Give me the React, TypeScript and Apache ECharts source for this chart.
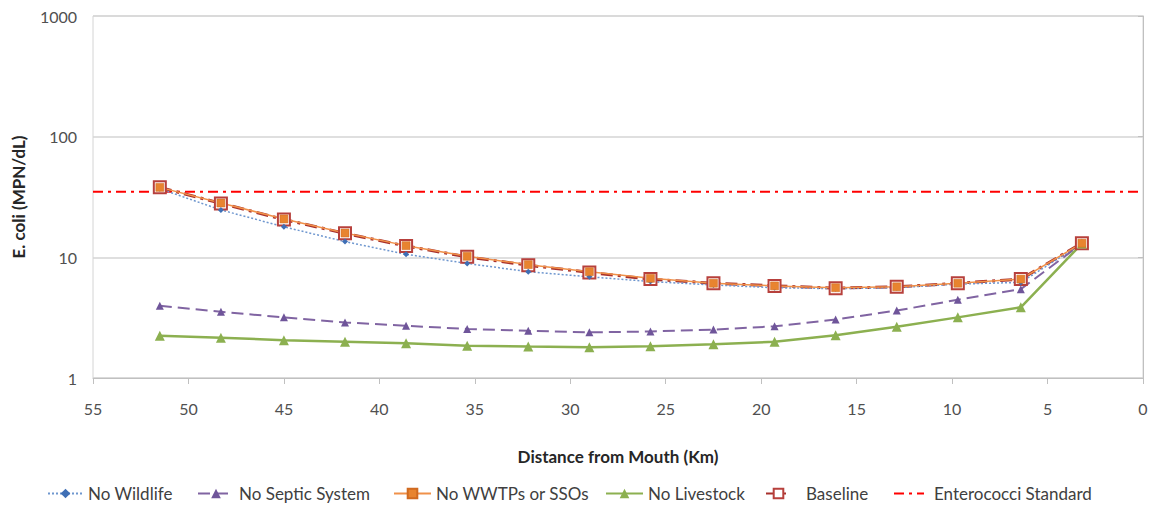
import React, { useEffect, useRef } from "react";
import * as echarts from "echarts";

const distanceKm = [51.5, 48.3, 45.0, 41.8, 38.6, 35.4, 32.2, 29.0, 25.8, 22.5, 19.3, 16.1, 12.9, 9.7, 6.4, 3.2];
const noWildlife = [37, 24.7, 17.9, 13.5, 10.6, 8.9, 7.6, 6.9, 6.3, 5.9, 5.6, 5.5, 5.6, 6.0, 6.2, 13];
const noSeptic = [3.97, 3.54, 3.18, 2.89, 2.71, 2.55, 2.46, 2.39, 2.43, 2.52, 2.68, 3.05, 3.62, 4.45, 5.45, 13];
const noWWTPs = [38, 28.2, 20.8, 15.9, 12.5, 10.2, 8.7, 7.6, 6.7, 6.1, 5.8, 5.6, 5.7, 6.1, 6.6, 13.1];
const noLivestock = [2.24, 2.16, 2.06, 2.0, 1.94, 1.85, 1.82, 1.80, 1.83, 1.90, 2.0, 2.26, 2.66, 3.18, 3.85, 13];
const baseline = [38, 28, 20.6, 15.8, 12.4, 10.1, 8.6, 7.5, 6.6, 6.1, 5.8, 5.55, 5.7, 6.1, 6.6, 13.1];
const standardX = [55, 0];
const standardValue = 35;

const seriesNames = ["No Wildlife", "No Septic System", "No WWTPs or SSOs", "No Livestock", "Baseline", "Enterococci Standard"];
const legendLefts = [47, 197, 393, 605, 765, 893];
const legendIconWidths = [35, 36, 37, 37, 25, 30];
const legendTextPads = [0, 0, 0, 0, 10, 5];

const pair = (ys: number[]) => distanceKm.map((x, i) => [x, ys[i]]);

export default function App() {
  const ref = useRef<HTMLDivElement>(null);
  useEffect(() => {
    if (!ref.current) return;
    const chart = echarts.init(ref.current, undefined, { renderer: "svg" });
    const font = "Lato, 'Open Sans', sans-serif";
    const legends = seriesNames.map((n, i) => ({
      data: [n],
      left: legendLefts[i],
      top: 485,
      padding: 0,
      itemWidth: legendIconWidths[i],
      itemHeight: 12,
      itemGap: 5,
      textStyle: { fontFamily: font, fontSize: 17, color: "#404040", padding: [0, 0, 0, legendTextPads[i]] },
      ...(i === 5 ? { itemStyle: { opacity: 0 } } : {}),
    }));
    chart.setOption({
      animation: false,
      backgroundColor: "#ffffff",
      legend: legends,
      grid: { left: 93, right: 13, top: 16, bottom: 130, show: true, borderColor: "#d4d4d4", borderWidth: 1 },
      xAxis: {
        type: "value",
        inverse: true,
        min: 0,
        max: 55,
        interval: 5,
        name: "Distance from Mouth (Km)",
        nameLocation: "middle",
        nameGap: 70,
        nameTextStyle: { fontFamily: font, fontSize: 17, fontWeight: "bold", color: "#262626" },
        axisLine: { lineStyle: { color: "#c0c0c0" } },
        axisTick: { show: true, length: 6, lineStyle: { color: "#c0c0c0" } },
        axisLabel: { fontFamily: font, fontSize: 16, color: "#505050", margin: 22 },
        splitLine: { show: false },
      },
      yAxis: {
        type: "log",
        logBase: 10,
        min: 1,
        max: 1000,
        name: "E. coli (MPN/dL)",
        nameLocation: "middle",
        nameGap: 66,
        nameTextStyle: { fontFamily: font, fontSize: 17, fontWeight: "bold", color: "#262626" },
        axisLine: { show: true, lineStyle: { color: "#c0c0c0" } },
        axisTick: { show: true, length: 5, lineStyle: { color: "#c0c0c0" } },
        axisLabel: { fontFamily: font, fontSize: 16, color: "#505050", margin: 16, formatter: (v: number) => String(Math.round(v)) },
        splitLine: { show: true, lineStyle: { color: "#d4d4d4", width: 1.5 } },
      },
      series: [
        {
          name: "Enterococci Standard",
          type: "line",
          data: standardX.map((x) => [x, standardValue]),
          symbol: "none",
          lineStyle: { color: "#ff0000", width: 2, type: [10, 5, 3, 5] },
          itemStyle: { color: "#ff0000" },
        },
        {
          name: "Baseline",
          type: "line",
          data: pair(baseline),
          symbol: "rect",
          symbolSize: 12,
          lineStyle: { color: "#a8302c", width: 3, type: [12, 5, 3, 5] },
          itemStyle: { color: "#ffffff", borderColor: "#b7403c", borderWidth: 2 },
        },
        {
          name: "No Wildlife",
          type: "line",
          data: pair(noWildlife),
          symbol: "diamond",
          symbolSize: 6,
          lineStyle: { color: "#6f97cf", width: 1.5, type: [2, 2] },
          itemStyle: { color: "#3f6fb5" },
        },
        {
          name: "No Septic System",
          type: "line",
          data: pair(noSeptic),
          symbol: "triangle",
          symbolSize: 8,
          lineStyle: { color: "#8064a2", width: 2, type: [12, 6] },
          itemStyle: { color: "#6f559a" },
        },
        {
          name: "No Livestock",
          type: "line",
          data: pair(noLivestock),
          symbol: "triangle",
          symbolSize: 10,
          lineStyle: { color: "#8cb050", width: 2.5 },
          itemStyle: { color: "#8cb050" },
        },
        {
          name: "No WWTPs or SSOs",
          type: "line",
          data: pair(noWWTPs),
          symbol: "rect",
          symbolSize: 8,
          lineStyle: { color: "#f0914a", width: 1.5 },
          itemStyle: { color: "#e8842f", borderColor: "#d06a20", borderWidth: 0.5 },
        },
      ],
    });
    return () => chart.dispose();
  }, []);
  return <div ref={ref} style={{ width: 1156, height: 508, position: "absolute", left: 0, top: 0 }} />;
}
